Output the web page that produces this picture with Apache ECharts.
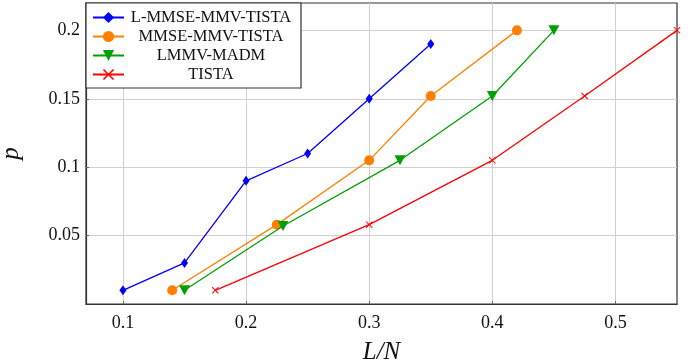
<!DOCTYPE html>
<html>
<head>
<meta charset="utf-8">
<script src="https://cdn.jsdelivr.net/npm/echarts@6/dist/echarts.min.js"></script>
<style>html,body{margin:0;padding:0;background:#fff}#c{width:697px;height:364px}</style>
</head>
<body>
<div id="c"></div>
<script>
const seriesNames = ['L-MMSE-MMV-TISTA', 'MMSE-MMV-TISTA', 'LMMV-MADM', 'TISTA'];
const xBlue = [0.1, 0.15, 0.2, 0.25, 0.3, 0.35];
const yBlue = [0.01, 0.03, 0.09, 0.11, 0.15, 0.19];
const xOrange = [0.14, 0.225, 0.3, 0.35, 0.42];
const yOrange = [0.01, 0.058, 0.105, 0.152, 0.2];
const xGreen = [0.15, 0.23, 0.325, 0.4, 0.45];
const yGreen = [0.01, 0.057, 0.105, 0.152, 0.2];
const xRed = [0.175, 0.3, 0.4, 0.475, 0.55];
const yRed = [0.01, 0.058, 0.105, 0.152, 0.2];
const xTicks = [0.1, 0.2, 0.3, 0.4, 0.5];
const yTicks = [0.05, 0.1, 0.15, 0.2];

const zip = (xs, ys) => xs.map((x, i) => [x, ys[i]]);
const font = '"Liberation Serif", "DejaVu Serif", serif';
const colors = ['#0000ff', '#ff8000', '#00a000', '#ff0000'];
const symbols = [
  'diamond',
  'circle',
  'path://M0,0L10,0L5,9Z',
  'path://M0,1L1,0L5,4L9,0L10,1L6,5L10,9L9,10L5,6L1,10L0,9L4,5Z'
];
const sizes = [[7, 10], 10, [11, 10], 7];
const data = [zip(xBlue, yBlue), zip(xOrange, yOrange), zip(xGreen, yGreen), zip(xRed, yRed)];

const chart = echarts.init(document.getElementById('c'), null, {renderer: 'canvas'});
chart.setOption({
  animation: false,
  backgroundColor: '#fff',
  grid: {left: 86, right: 20, top: 3, bottom: 60, show: true, borderColor: '#333', borderWidth: 1.2,
    containLabel: false, outerBoundsMode: 'none'},
  xAxis: {
    type: 'value', min: 0.07, max: 0.55,
    name: 'L/N', nameLocation: 'middle', nameGap: 36,
    nameTextStyle: {fontFamily: font, fontStyle: 'italic', fontSize: 25, color: '#111'},
    axisLine: {show: true, onZero: false, lineStyle: {color: '#333', width: 1.2}},
    axisTick: {show: true, inside: true, length: 3, customValues: xTicks, lineStyle: {color: '#666'}},
    axisLabel: {customValues: xTicks, fontFamily: font, fontSize: 18, color: '#111', margin: 10,
      formatter: v => String(Math.round(v * 100) / 100)},
    splitLine: {show: true, lineStyle: {color: '#d0d0d0', width: 1}}
  },
  yAxis: {
    type: 'value', min: 0, max: 0.22,
    name: 'p', nameLocation: 'middle', nameGap: 62, nameRotate: 90,
    nameTextStyle: {fontFamily: font, fontStyle: 'italic', fontSize: 25, color: '#111'},
    axisLine: {show: true, onZero: false, lineStyle: {color: '#333', width: 1.2}},
    axisTick: {show: true, inside: true, length: 3, customValues: yTicks, lineStyle: {color: '#666'}},
    axisLabel: {customValues: yTicks, fontFamily: font, fontSize: 18, color: '#111', margin: 6,
      formatter: v => String(Math.round(v * 100) / 100)},
    splitLine: {show: true, lineStyle: {color: '#d0d0d0', width: 1}}
  },
  legend: {
    orient: 'vertical', left: 86, top: 3,
    padding: [6, 8, 5, 6], itemWidth: 31, itemHeight: 14, itemGap: 2, itemTextGap: 4,
    backgroundColor: '#fff', borderColor: '#333', borderWidth: 1.2,
    data: seriesNames,
    formatter: n => '{c|' + n + '}',
    textStyle: {fontFamily: font, fontSize: 16.5, lineHeight: 16, color: '#111',
      rich: {c: {width: 164, align: 'center', fontFamily: font, fontSize: 16.5, lineHeight: 16, color: '#111'}}}
  },
  series: seriesNames.map((n, i) => ({
    name: n, type: 'line', data: data[i],
    symbol: symbols[i], symbolSize: sizes[i], showAllSymbol: true,
    lineStyle: {color: colors[i], width: 1.3},
    itemStyle: {color: colors[i]},
    z: 5 + i
  }))
});
</script>
</body>
</html>
